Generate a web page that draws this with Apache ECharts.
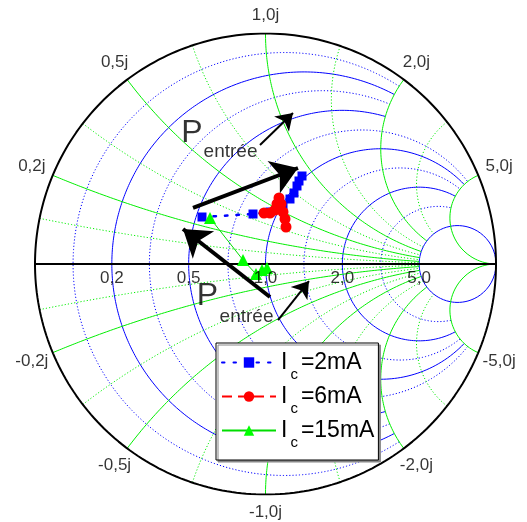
<!DOCTYPE html>
<html><head><meta charset="utf-8">
<script src="https://cdn.jsdelivr.net/npm/echarts@6/dist/echarts.min.js"></script>
<style>html,body{margin:0;padding:0;background:#fff}#c{width:527px;height:522px}</style>
</head><body><div id="c"></div>
<script>
// ---- grid values (normalized impedance) ----
const majorR = [0.2, 0.5, 1, 2, 5];
const minorR = [0.09, 0.33, 0.72, 1.4, 3];
const majorX = [0.2, 0.5, 1, 2, 5];
const minorX = [0.1, 0.34, 0.72, 1.4, 2.9];
const rTickLabels = ['0,2', '0,5', '1,0', '2,0', '5,0'];
const xTickLabels = ['0,2j', '0,5j', '1,0j', '2,0j', '5,0j'];
const xTickLabelsNeg = ['-0,2j', '-0,5j', '-1,0j', '-2,0j', '-5,0j'];
// ---- measured reflection coefficients (real / imaginary) ----
const seriesNames = ['I_c=2mA', 'I_c=6mA', 'I_c=15mA'];
const ic2Re = [-0.2755, -0.0542, 0.0195, 0.0759, 0.1063, 0.1236, 0.1367, 0.1453, 0.1584];
const ic2Im = [0.2039, 0.2169, 0.2256, 0.2560, 0.2820, 0.3080, 0.3384, 0.3601, 0.3818];
const ic6Re = [-0.0065, 0.0195, 0.0412, 0.0499, 0.0586, 0.0672, 0.0759, 0.0846, 0.0889];
const ic6Im = [0.2213, 0.2213, 0.2343, 0.2603, 0.2863, 0.2603, 0.2256, 0.1952, 0.1605];
const ic15Re = [-0.2408, -0.0976, -0.0412, -0.0152, 0.0065];
const ic15Im = [0.1996, 0.0174, -0.0434, -0.0260, -0.0174];
// ---- annotations (reflection-plane coordinates) ----
const thickArrowFrom = [[-0.3145, 0.2430], [0.0195, -0.1432]];
const thickArrowTo = [[0.1410, 0.4165], [-0.3579, 0.1518]];
const thinArrowFrom = [[-0.0239, 0.5163], [0.0542, -0.2430]];
const thinArrowTo = [[0.1193, 0.6551], [0.1887, -0.0738]];
const pLabelAt = [[-0.3189, 0.5662], [-0.2516, -0.1410]];
const subLabelAt = [[-0.1518, 0.4859], [-0.0824, -0.2278]];
const pText = 'P';
const subText = 'entrée';

const FONT = "'Liberation Sans', Arial, sans-serif";
const R_PX = 230.5;
function G(r, x) { const d = (r + 1) * (r + 1) + x * x; return [(r * r + x * x - 1) / d, 2 * x / d]; }
function rArc(r, X) {
  const pts = [], n = 300, tmax = isFinite(X) ? Math.atan(X) : Math.PI / 2;
  for (let i = 0; i <= n; i++) {
    const t = -tmax + 2 * tmax * i / n;
    if (Math.PI / 2 - Math.abs(t) < 1e-9) pts.push([1, 0]); else pts.push(G(r, Math.tan(t)));
  }
  return pts;
}
function xArc(x, Rl) {
  const pts = [], n = 250, umax = isFinite(Rl) ? Math.atan(Rl) : Math.PI / 2;
  for (let i = 0; i <= n; i++) {
    const u = umax * i / n;
    if (Math.PI / 2 - u < 1e-9) pts.push([1, 0]); else pts.push(G(Math.tan(u), x));
  }
  return pts;
}
const rLimit = r => r <= 0.5 ? 2 : (r < 5 ? 5 : Infinity);
const xLimit = x => Math.abs(x) < 5 ? 5 : Infinity;
const DOT = [1.2, 2];
const series = [];
function gridLine(data, color, dotted) {
  series.push({ type: 'line', data, symbol: 'none', silent: true, animation: false, z: 1,
    lineStyle: { color, width: 1, type: dotted ? DOT : 'solid' } });
}
minorR.forEach(r => gridLine(rArc(r, rLimit(r)), '#0000ff', true));
majorR.forEach(r => gridLine(rArc(r, rLimit(r)), '#0000ff', false));
minorX.forEach(x => { gridLine(xArc(x, xLimit(x)), '#00ee00', true); gridLine(xArc(-x, xLimit(x)), '#00ee00', true); });
majorX.forEach(x => { gridLine(xArc(x, xLimit(x)), '#00ee00', false); gridLine(xArc(-x, xLimit(x)), '#00ee00', false); });
// outer circle and real axis
series.push({ type: 'line', data: rArc(0, Infinity), symbol: 'none', silent: true, animation: false, z: 2,
  lineStyle: { color: '#000', width: 2 } });
series.push({ type: 'line', data: [[-1, 0], [1, 0]], symbol: 'none', silent: true, animation: false, z: 2,
  lineStyle: { color: '#000', width: 2 } });
// data series
const zip = (a, b) => a.map((v, i) => [v, b[i]]);
series.push({ name: seriesNames[0], type: 'line', data: zip(ic2Re, ic2Im), z: 5, animation: false,
  symbol: 'rect', symbolSize: 9, itemStyle: { color: '#0000ff' },
  lineStyle: { color: '#0000ff', width: 2.5, type: [2.5, 9], cap: 'round' } });
series.push({ name: seriesNames[1], type: 'line', data: zip(ic6Re, ic6Im), z: 6, animation: false,
  symbol: 'circle', symbolSize: 11, itemStyle: { color: '#ff0000' },
  lineStyle: { color: '#ff0000', width: 2.5, type: [10, 6] } });
series.push({ name: seriesNames[2], type: 'line', data: zip(ic15Re, ic15Im), z: 7, animation: false,
  symbol: 'triangle', symbolSize: 12, itemStyle: { color: '#00ff00' },
  lineStyle: { color: '#00dd00', width: 1 } });
// arrows
series.push({ type: 'lines', coordinateSystem: 'cartesian2d', z: 8, animation: false, silent: true,
  symbol: ['none', 'arrow'], symbolSize: [16, 26], lineStyle: { color: '#000', width: 4, opacity: 1 },
  data: thickArrowFrom.map((f, i) => ({ coords: [f, thickArrowTo[i]] })) });
series.push({ type: 'lines', coordinateSystem: 'cartesian2d', z: 8, animation: false, silent: true,
  symbol: ['none', 'arrow'], symbolSize: [10, 16], lineStyle: { color: '#000', width: 2, opacity: 1 },
  data: thinArrowFrom.map((f, i) => ({ coords: [f, thinArrowTo[i]] })) });
// text labels
function textSeries(points, fontSize, offsets) {
  series.push({ type: 'scatter', symbolSize: 1, itemStyle: { color: 'rgba(0,0,0,0)' }, clip: false,
    silent: true, animation: false, z: 9,
    data: points.map((p, i) => ({ value: [p[0], p[1]], label: { show: true, position: 'inside',
      formatter: p[2], offset: offsets ? offsets[i] : [0, 0], color: '#000', fontSize, fontFamily: FONT,
      align: 'center', verticalAlign: 'middle' } })) });
}
textSeries(pLabelAt.map(p => [p[0], p[1], pText]), 32);
textSeries(subLabelAt.map(p => [p[0], p[1], subText]), 19);
textSeries(majorR.map((r, i) => [G(r, 0)[0], 0, rTickLabels[i]]), 17, majorR.map(() => [0, 14]));
function xLabelPts(vals, labels, sign) {
  return vals.map((x, i) => {
    const g = G(0, sign * x); const c = Math.abs(g[0]);
    const d = (18 + 5 * c) / R_PX;
    return [g[0] * (1 + d), g[1] * (1 + d), labels[i]];
  });
}
textSeries(xLabelPts(majorX, xTickLabels, 1), 17);
textSeries(xLabelPts(majorX, xTickLabelsNeg, -1), 17);

const chart = echarts.init(document.getElementById('c'), null, { renderer: 'canvas' });
chart.setOption({
  animation: false,
  grid: { left: 35, top: 33.5, width: 461, height: 461 },
  xAxis: { type: 'value', min: -1, max: 1, show: false },
  yAxis: { type: 'value', min: -1, max: 1, show: false },
  legend: {
    data: seriesNames, orient: 'vertical', left: 216, top: 343, selectedMode: false,
    itemWidth: 54, itemHeight: 13, itemGap: -5, padding: [0, 4, 10, 5],
    borderColor: '#000', borderWidth: 1, backgroundColor: '#fff',
    shadowColor: '#888', shadowOffsetX: 2, shadowOffsetY: 2, shadowBlur: 0,
    formatter: n => { const p = n.split('_'); const rest = p[1].slice(1); return '{m|' + p[0] + '}{s|' + p[1][0] + '}{m|' + rest + '}'; },
    textStyle: { color: '#000', fontFamily: FONT, rich: {
      m: { fontSize: 23, lineHeight: 26, fontFamily: FONT, color: '#000', verticalAlign: 'middle' },
      s: { fontSize: 15, lineHeight: 16, fontFamily: FONT, color: '#000', padding: [24, 3, 0, 3] } } }
  },
  series
});
</script></body></html>
